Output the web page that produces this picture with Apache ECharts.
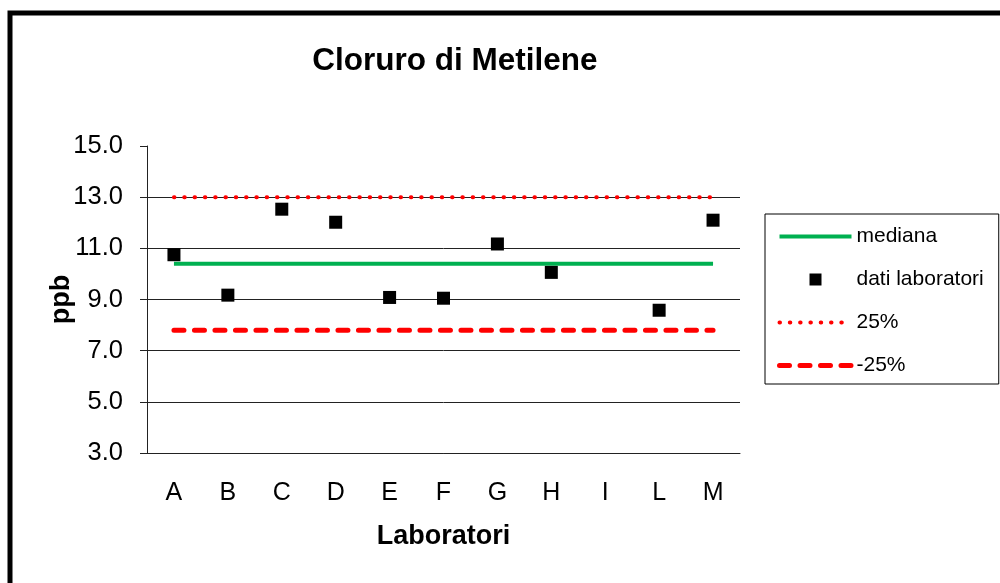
<!DOCTYPE html>
<html>
<head>
<meta charset="utf-8">
<script src="https://cdn.jsdelivr.net/npm/echarts@6/dist/echarts.min.js"></script>
<style>
html,body{margin:0;padding:0;background:#fff;}
#tu_1{width:1000px;height:583px;}
</style>
</head>
<body>
<div id="tu_1"></div>
<script>
var laboratori = ['A','B','C','D','E','F','G','H','I','L','M'];
var datiLab = [10.75, 9.17, 12.53, 12.02, 9.08, 9.05, 11.17, 10.06, null, 8.58, 12.1];
var mediana = [10.4, 10.4, 10.4, 10.4, 10.4, 10.4, 10.4, 10.4, 10.4, 10.4, 10.4];
var piu25 = [13.0, 13.0, 13.0, 13.0, 13.0, 13.0, 13.0, 13.0, 13.0, 13.0, 13.0];
var meno25 = [7.8, 7.8, 7.8, 7.8, 7.8, 7.8, 7.8, 7.8, 7.8, 7.8, 7.8];

var font = 'Liberation Sans, Arial, sans-serif';
var myChart_1 = echarts.init(document.getElementById('tu_1'));

var verde = '#00B050', rosso = '#FF0000';
var stileMediana = {color: verde, width: 4};
var stile25 = {color: rosso, width: 4, type: [0.5, 9.8], cap: 'round'};
var stileMeno25 = {color: rosso, width: 5, type: [10, 10.5], cap: 'round'};
// quadratino della legenda: i due "M" servono solo a dare l'ingombro 72x12
var iconaQuadrato = 'path://M0,0M72,12M30,0h12v12h-12z';

var option = {
	animation: false,
	textStyle: {fontFamily: font},
	title: {
		text: 'Cloruro di Metilene',
		left: 450,
		textAlign: 'center',
		top: 40,
		textStyle: {fontFamily: font, fontSize: 31.5, fontWeight: 'bold', color: '#000'}
	},
	graphic: [{
		type: 'rect',
		z: -10,
		shape: {x: 10, y: 13, width: 1200, height: 800},
		style: {fill: null, stroke: '#000', lineWidth: 5}
	}],
	legend: {
		orient: 'vertical',
		left: 765,
		top: 214,
		padding: [12, 15, 8, 12],
		itemGap: 22,
		itemWidth: 72,
		itemHeight: 12,
		itemTextGap: 3,
		symbolKeepAspect: true,
		borderColor: '#000',
		borderWidth: 1,
		textStyle: {fontFamily: font, fontSize: 21, color: '#000'},
		data: [
			{name: 'mediana', itemStyle: {opacity: 0}, lineStyle: stileMediana},
			{name: 'dati laboratori', icon: iconaQuadrato, itemStyle: {color: '#000', opacity: 1}},
			{name: '25%', itemStyle: {opacity: 0}, lineStyle: stile25},
			{name: '-25%', itemStyle: {opacity: 0}, lineStyle: stileMeno25}
		]
	},
	grid: {left: 147, top: 146, width: 593, height: 307},
	xAxis: {
		type: 'category',
		data: laboratori,
		name: 'Laboratori',
		nameLocation: 'middle',
		nameGap: 70,
		nameTextStyle: {fontFamily: font, fontSize: 27, fontWeight: 'bold', color: '#000'},
		axisLine: {lineStyle: {color: '#222', width: 1}},
		axisTick: {length: 7, lineStyle: {color: '#222'}},
		axisLabel: {fontFamily: font, fontSize: 25, color: '#000', margin: 28}
	},
	yAxis: {
		type: 'value',
		min: 3,
		max: 15,
		interval: 2,
		name: 'ppb',
		nameLocation: 'middle',
		nameGap: 72,
		nameMoveOverlap: false,
		nameTextStyle: {fontFamily: font, fontSize: 27, fontWeight: 'bold', color: '#000'},
		axisLine: {show: true, lineStyle: {color: '#222', width: 1}},
		axisTick: {show: true, length: 7, lineStyle: {color: '#222'}},
		axisLabel: {fontFamily: font, fontSize: 25.5, color: '#000', margin: 24,
			formatter: function (v) { return v.toFixed(1); }},
		splitLine: {show: true, showMaxLine: false, lineStyle: {color: '#222', width: 1}}
	},
	series: [
		{
			name: 'mediana',
			type: 'line',
			data: mediana,
			symbol: 'none',
			z: 3,
			lineStyle: stileMediana,
			itemStyle: {color: verde}
		},
		{
			name: 'dati laboratori',
			type: 'scatter',
			data: datiLab,
			symbol: 'rect',
			symbolSize: 13,
			z: 5,
			itemStyle: {color: '#000', opacity: 1}
		},
		{
			name: '25%',
			type: 'line',
			data: piu25,
			symbol: 'none',
			z: 3,
			lineStyle: stile25,
			itemStyle: {color: rosso}
		},
		{
			name: '-25%',
			type: 'line',
			data: meno25,
			symbol: 'none',
			z: 3,
			lineStyle: stileMeno25,
			itemStyle: {color: rosso}
		}
	]
};
myChart_1.setOption(option);
</script>
</body>
</html>
